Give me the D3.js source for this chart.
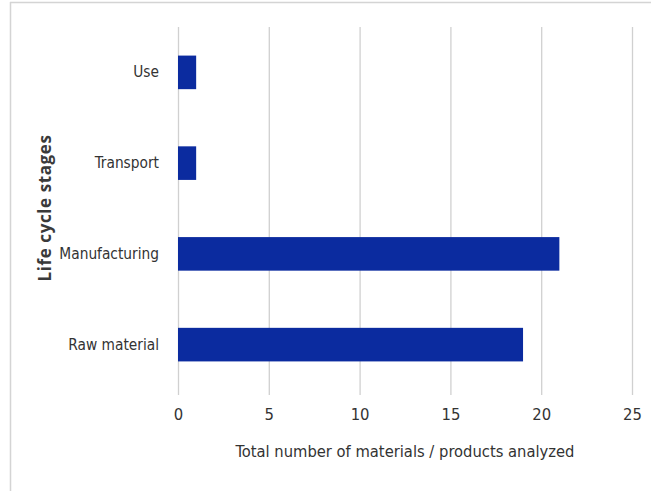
<!DOCTYPE html>
<html>
<head>
<meta charset="utf-8">
<script src="https://cdn.jsdelivr.net/npm/d3@7"></script>
<style>
  html, body { margin: 0; padding: 0; background: #fff; }
  svg { display: block; }
</style>
</head>
<body>
<svg id="chart" width="651" height="491"></svg>
<script>
// Life cycle stages and the number of materials / products analysed for each
const stages = ["Use", "Transport", "Manufacturing", "Raw material"];
const counts = [1, 1, 21, 19];
const xTicks = [0, 5, 10, 15, 20, 25];
const xTitle = "Total number of materials / products analyzed";
const yTitle = "Life cycle stages";

const svg = d3.select("#chart");
const W = 651, H = 491;
const margin = { left: 178, right: 19, top: 27, bottom: 101 };
const plotW = W - margin.left - margin.right;
const plotH = H - margin.top - margin.bottom;

// chart frame: top and left edges
svg.append("line").attr("x1", 10).attr("x2", W).attr("y1", 2.5).attr("y2", 2.5)
  .attr("stroke", "#d4d4d4").attr("stroke-width", 1.5);
svg.append("line").attr("x1", 10.5).attr("x2", 10.5).attr("y1", 2).attr("y2", H)
  .attr("stroke", "#d4d4d4").attr("stroke-width", 1.5);

const g = svg.append("g").attr("transform", `translate(${margin.left},${margin.top})`);

const x = d3.scaleLinear().domain([0, 25]).range([0, plotW]);
const y = d3.scaleBand().domain(stages).range([0, plotH]).paddingInner(0.63).paddingOuter(0.315);

// vertical gridlines
g.append("g")
  .call(d3.axisBottom(x).tickValues(xTicks).tickSize(plotH + 5).tickFormat(""))
  .call(a => a.select(".domain").remove())
  .call(a => a.selectAll("line").attr("stroke", "#d0d0d0").attr("stroke-width", 1.3));

// tick labels
const fontCond = "'Liberation Sans Narrow', 'DejaVu Sans Condensed', 'Roboto', sans-serif";
g.append("g")
  .attr("transform", `translate(0,${plotH})`)
  .call(d3.axisBottom(x).tickValues(xTicks).tickSize(0).tickPadding(18))
  .call(a => a.select(".domain").remove())
  .call(a => a.selectAll("text")
    .attr("font-family", fontCond).attr("font-size", 16.5).attr("fill", "#333"));

// bars
g.selectAll("rect.bar")
  .data(stages)
  .join("rect")
  .attr("class", "bar")
  .attr("x", x(0))
  .attr("y", d => y(d))
  .attr("width", (d, i) => x(counts[i]) - x(0))
  .attr("height", y.bandwidth())
  .attr("fill", "#0b2b9f");

// category labels
g.append("g")
  .call(d3.axisLeft(y).tickSize(0).tickPadding(19))
  .call(a => a.select(".domain").remove())
  .call(a => a.selectAll("text")
    .attr("font-family", fontCond).attr("font-size", 15.3).attr("fill", "#333"));

// axis titles
svg.append("text")
  .attr("x", margin.left + plotW / 2).attr("y", 457)
  .attr("text-anchor", "middle")
  .attr("font-family", fontCond).attr("font-size", 16.4).attr("fill", "#333")
  .text(xTitle);

svg.append("text")
  .attr("transform", `translate(51,${208}) rotate(-90)`)
  .attr("text-anchor", "middle")
  .attr("font-family", "'Open Sans', 'Noto Sans', sans-serif")
  .attr("font-weight", "bold").attr("font-size", 17).attr("fill", "#3a3a3a")
  .attr("letter-spacing", 0.6)
  .text(yTitle);
</script>
</body>
</html>
